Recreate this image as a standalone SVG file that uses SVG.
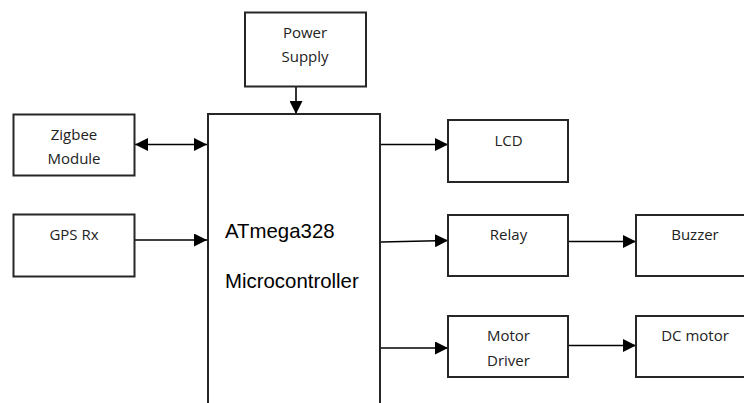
<svg xmlns="http://www.w3.org/2000/svg" width="744" height="403" viewBox="0 0 744 403">
<style>
.box{fill:#fff;stroke:#262626;stroke-width:2}
.lbl{font-family:"Open Sans","Noto Sans",sans-serif;font-size:15px;fill:#222;text-anchor:middle}
.big{font-family:"Liberation Sans",Arial,sans-serif;font-size:20.4px;fill:#000}
.con{stroke:#000;stroke-width:1.6;fill:none}
</style>
<defs>
<marker id="ah" markerUnits="userSpaceOnUse" markerWidth="13" markerHeight="13" refX="13" refY="6.5" orient="auto-start-reverse" viewBox="0 0 13 13">
<path d="M0,0 L13,6.5 L0,13 z" fill="#000"/>
</marker>
</defs>
<rect width="744" height="403" fill="#fff"/>
<g id="connectors">
<line class="con" x1="296" y1="87" x2="296" y2="114" marker-end="url(#ah)"/>
<line class="con" x1="135" y1="144.5" x2="207" y2="144.5" marker-start="url(#ah)" marker-end="url(#ah)"/>
<line class="con" x1="135" y1="240" x2="207" y2="240" marker-end="url(#ah)"/>
<line class="con" x1="381" y1="144.5" x2="448" y2="144.5" marker-end="url(#ah)"/>
<line class="con" x1="381" y1="242" x2="448" y2="240.5" marker-end="url(#ah)"/>
<line class="con" x1="569" y1="241.5" x2="636" y2="241.5" marker-end="url(#ah)"/>
<line class="con" x1="381" y1="348" x2="448" y2="348" marker-end="url(#ah)"/>
<line class="con" x1="569" y1="345.5" x2="636" y2="345.5" marker-end="url(#ah)"/>
</g>
<g id="power">
<rect class="box" x="245" y="12.5" width="121" height="74"/>
<text class="lbl" x="305" y="38">Power</text>
<text class="lbl" x="305" y="62">Supply</text>
</g>
<g id="micro">
<path class="box" d="M208,410 V114 H380 V410"/>
<text class="big" x="225" y="238">ATmega328</text>
<text class="big" x="225" y="288">Microcontroller</text>
</g>
<g id="zigbee">
<rect class="box" x="13.5" y="114.5" width="121" height="61"/>
<text class="lbl" x="74" y="140">Zigbee</text>
<text class="lbl" x="74" y="164">Module</text>
</g>
<g id="gps">
<rect class="box" x="13.5" y="214.5" width="121" height="62"/>
<text class="lbl" x="74" y="240">GPS Rx</text>
</g>
<g id="lcd">
<rect class="box" x="448" y="120" width="120" height="62"/>
<text class="lbl" x="508.5" y="146">LCD</text>
</g>
<g id="relay">
<rect class="box" x="448" y="215" width="120" height="61"/>
<text class="lbl" x="508.5" y="240">Relay</text>
</g>
<g id="buzzer">
<rect class="box" x="636" y="215" width="120" height="61"/>
<text class="lbl" x="695" y="240">Buzzer</text>
</g>
<g id="motordriver">
<rect class="box" x="448" y="316" width="120" height="61"/>
<text class="lbl" x="508.5" y="341">Motor</text>
<text class="lbl" x="508.5" y="366">Driver</text>
</g>
<g id="dcmotor">
<rect class="box" x="636" y="316" width="120" height="61"/>
<text class="lbl" x="695" y="341">DC motor</text>
</g>
</svg>
